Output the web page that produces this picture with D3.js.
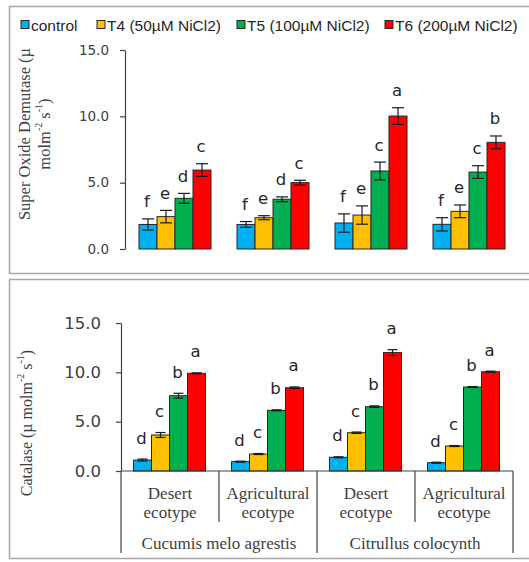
<!DOCTYPE html>
<html>
<head>
<meta charset="utf-8">
<script src="https://cdn.jsdelivr.net/npm/d3@7"></script>
<style>
  html, body { margin: 0; padding: 0; background: #fff; }
  svg { display: block; }
</style>
</head>
<body>
<svg id="chart" width="529" height="562"></svg>
<script>
// ---------- DATA ----------
const ecotypes = ["Desert", "Agricultural", "Desert", "Agricultural"];
const species = ["Cucumis melo agrestis", "Citrullus colocynth"];
const seriesNames = ["control", "T4 (50µM NiCl2)", "T5 (100µM NiCl2)", "T6 (200µM NiCl2)"];
const seriesColors = ["#00B0F0", "#FFC000", "#00B050", "#FF0000"];
const yTicks = [0, 5, 10, 15];

// Super Oxide Demutase (top panel) – one array per series, 4 categories each
const sodControl = [1.85, 1.85, 1.96, 1.86];
const sodT4      = [2.44, 2.36, 2.56, 2.84];
const sodT5      = [3.82, 3.75, 5.88, 5.80];
const sodT6      = [5.95, 5.00, 10.02, 8.04];
const sodErrControl = [0.42, 0.22, 0.69, 0.50];
const sodErrT4      = [0.47, 0.15, 0.69, 0.48];
const sodErrT5      = [0.37, 0.18, 0.67, 0.48];
const sodErrT6      = [0.48, 0.18, 0.63, 0.48];
const sodLetControl = ["f", "f", "f", "f"];
const sodLetT4      = ["e", "e", "e", "e"];
const sodLetT5      = ["d", "d", "c", "c"];
const sodLetT6      = ["c", "c", "a", "b"];

// Catalase (bottom panel)
const catControl = [1.11, 0.95, 1.39, 0.84];
const catT4      = [3.65, 1.72, 3.88, 2.53];
const catT5      = [7.63, 6.15, 6.52, 8.51];
const catT6      = [9.90, 8.44, 12.00, 10.06];
const catErrControl = [0.10, 0.05, 0.05, 0.05];
const catErrT4      = [0.25, 0.05, 0.07, 0.05];
const catErrT5      = [0.25, 0.05, 0.08, 0.05];
const catErrT6      = [0.05, 0.08, 0.30, 0.06];
const catLetControl = ["d", "d", "d", "d"];
const catLetT4      = ["c", "c", "c", "c"];
const catLetT5      = ["b", "b", "b", "b"];
const catLetT6      = ["a", "a", "a", "a"];

// ---------- BUILD ----------
const svg = d3.select("#chart");
const catIdx = d3.range(ecotypes.length);

function buildRows(vals, errs, lets) {
  const rows = [];
  catIdx.forEach(c => {
    seriesNames.forEach((s, si) => {
      rows.push({ c, s, si, v: vals[si][c], e: errs[si][c], l: lets[si][c] });
    });
  });
  return rows;
}
const sodRows = buildRows([sodControl, sodT4, sodT5, sodT6],
                          [sodErrControl, sodErrT4, sodErrT5, sodErrT6],
                          [sodLetControl, sodLetT4, sodLetT5, sodLetT6]);
const catRows = buildRows([catControl, catT4, catT5, catT6],
                          [catErrControl, catErrT4, catErrT5, catErrT6],
                          [catLetControl, catLetT4, catLetT5, catLetT6]);

// Frames
svg.append("rect").attr("x", 9.5).attr("y", 6.5).attr("width", 560).attr("height", 267)
  .attr("fill", "none").attr("stroke", "#a6a6a6").attr("stroke-width", 1.5);
svg.append("rect").attr("x", 9.5).attr("y", 279.5).attr("width", 560).attr("height", 279)
  .attr("fill", "none").attr("stroke", "#a6a6a6").attr("stroke-width", 1.5);

const axisColor = "#404040";
const textColor = "#404040";

function drawPanel(opts) {
  const { rows, axisX, yTop, yBottom, bandLeft, tickFont, tickPad, letterGap, capW, barOffset } = opts;
  const g = svg.append("g");
  const y = d3.scaleLinear().domain([0, 15]).range([yBottom, yTop]);
  const x0 = d3.scaleBand().domain(catIdx).range([bandLeft, bandLeft + 98 * 4]).padding(0);
  const x1 = d3.scaleBand().domain(seriesNames).range([barOffset, barOffset + 72]).padding(0);

  // Y axis
  const ax = g.append("g").attr("transform", `translate(${axisX},0)`)
    .call(d3.axisLeft(y).tickValues(yTicks).tickFormat(d3.format(".1f"))
      .tickSizeInner(5).tickSizeOuter(0).tickPadding(tickPad));
  ax.select(".domain").attr("stroke", axisColor).attr("stroke-width", 1.2);
  ax.selectAll(".tick line").attr("stroke", axisColor).attr("stroke-width", 1.2);
  ax.selectAll(".tick text").attr("fill", textColor)
    .style("font-family", "'DejaVu Sans', sans-serif").style("font-size", tickFont + "px");

  // Bars
  g.selectAll("rect.bar").data(rows).join("rect").attr("class", "bar")
    .attr("x", d => x0(d.c) + x1(d.s))
    .attr("y", d => y(d.v))
    .attr("width", x1.bandwidth())
    .attr("height", d => y(0) - y(d.v))
    .attr("fill", d => seriesColors[d.si])
    .attr("stroke", "#262626").attr("stroke-width", 1);

  // Error bars
  const eg = g.selectAll("g.err").data(rows).join("g").attr("class", "err")
    .attr("stroke", "#1a1a1a").attr("stroke-width", 1.2);
  eg.append("line")
    .attr("x1", d => x0(d.c) + x1(d.s) + x1.bandwidth() / 2)
    .attr("x2", d => x0(d.c) + x1(d.s) + x1.bandwidth() / 2)
    .attr("y1", d => y(d.v + d.e)).attr("y2", d => y(d.v - d.e));
  [1, -1].forEach(sg => {
    eg.append("line")
      .attr("x1", d => x0(d.c) + x1(d.s) + x1.bandwidth() / 2 - capW / 2)
      .attr("x2", d => x0(d.c) + x1(d.s) + x1.bandwidth() / 2 + capW / 2)
      .attr("y1", d => y(d.v + sg * d.e)).attr("y2", d => y(d.v + sg * d.e));
  });

  // Letters
  g.selectAll("text.let").data(rows).join("text").attr("class", "let")
    .attr("x", d => x0(d.c) + x1(d.s) + x1.bandwidth() / 2 - 1)
    .attr("y", d => y(d.v + d.e) - letterGap)
    .attr("text-anchor", "middle").attr("dominant-baseline", "central")
    .attr("fill", "#262626")
    .style("font-family", "'DejaVu Sans', sans-serif").style("font-size", "16.5px")
    .text(d => d.l);

  return { g, x0, y };
}

// Top panel
const topPanel = drawPanel({
  rows: sodRows, axisX: 125, yTop: 50, yBottom: 249, bandLeft: 126,
  tickFont: 13.5, tickPad: 11, letterGap: 17, capW: 12, barOffset: 13
});
// Bottom panel
const botPanel = drawPanel({
  rows: catRows, axisX: 121, yTop: 323, yBottom: 471, bandLeft: 121,
  tickFont: 16.5, tickPad: 15, letterGap: 21, capW: 10, barOffset: 12.5
});

// Bottom x axis (multi-level categories)
const bx0 = botPanel.x0, by = botPanel.y;
const serif = "'Liberation Serif', 'Times New Roman', serif";
const axG = svg.append("g").attr("stroke", axisColor).attr("stroke-width", 1.2);
axG.append("line").attr("x1", bx0(0)).attr("x2", bx0(3) + bx0.bandwidth())
  .attr("y1", by(0)).attr("y2", by(0));
const bounds = d3.range(ecotypes.length + 1);
axG.selectAll("line.sep").data(bounds).join("line").attr("class", "sep")
  .attr("x1", d => bx0.range()[0] + d * bx0.step())
  .attr("x2", d => bx0.range()[0] + d * bx0.step())
  .attr("y1", by(0))
  .attr("y2", d => (d % 2 === 0) ? 553 : 522);

const catText = svg.append("g").attr("fill", textColor)
  .style("font-family", serif).style("font-size", "17px");
catText.selectAll("text.eco").data(catIdx).join("text").attr("class", "eco")
  .attr("x", d => bx0(d) + bx0.bandwidth() / 2).attr("y", 493)
  .attr("text-anchor", "middle").attr("dominant-baseline", "central")
  .text(d => ecotypes[d]);
catText.selectAll("text.eco2").data(catIdx).join("text").attr("class", "eco2")
  .attr("x", d => bx0(d) + bx0.bandwidth() / 2).attr("y", 512)
  .attr("text-anchor", "middle").attr("dominant-baseline", "central")
  .text("ecotype");
catText.selectAll("text.sp").data(species).join("text").attr("class", "sp")
  .attr("x", (d, i) => bx0(i * 2) + bx0.step())
  .attr("y", 543)
  .attr("text-anchor", "middle").attr("dominant-baseline", "central")
  .text(d => d);

// Y titles
function supText(sel, parts) {
  parts.forEach(p => {
    const t = sel.append("tspan").text(p.t);
    if (p.sup) t.attr("baseline-shift", "super").style("font-size", "10px");
  });
}
svg.append("text")
  .attr("transform", "translate(24,134) rotate(-90)")
  .attr("text-anchor", "middle").attr("dominant-baseline", "central")
  .attr("fill", textColor).style("font-family", serif).style("font-size", "16.5px")
  .text("Super Oxide Demutase (µ");
const t2 = svg.append("text")
  .attr("transform", "translate(44,134) rotate(-90)")
  .attr("text-anchor", "middle").attr("dominant-baseline", "central")
  .attr("fill", textColor).style("font-family", serif).style("font-size", "16.5px");
supText(t2, [{ t: "molm" }, { t: "-2", sup: true }, { t: " s" }, { t: "-1", sup: true }, { t: ")" }]);
const t3 = svg.append("text")
  .attr("transform", "translate(26,423) rotate(-90)")
  .attr("text-anchor", "middle").attr("dominant-baseline", "central")
  .attr("fill", textColor).style("font-family", serif).style("font-size", "16px");
supText(t3, [{ t: "Catalase (µ molm" }, { t: "-2", sup: true }, { t: " s" }, { t: "-1", sup: true }, { t: ")" }]);

// Legend
const legendX = [21, 97, 237, 385];
const lg = svg.append("g");
const li = lg.selectAll("g").data(seriesNames).join("g")
  .attr("transform", (d, i) => `translate(${legendX[i]},20.5)`);
li.append("rect").attr("width", 8).attr("height", 8)
  .attr("fill", (d, i) => seriesColors[i]).attr("stroke", "#262626").attr("stroke-width", 1);
li.append("text").attr("x", 10).attr("y", 4.5).attr("dominant-baseline", "central")
  .attr("fill", "#262626")
  .style("font-family", "'Liberation Sans', Arial, sans-serif").style("font-size", "15.5px")
  .text(d => d);
</script>
</body>
</html>
